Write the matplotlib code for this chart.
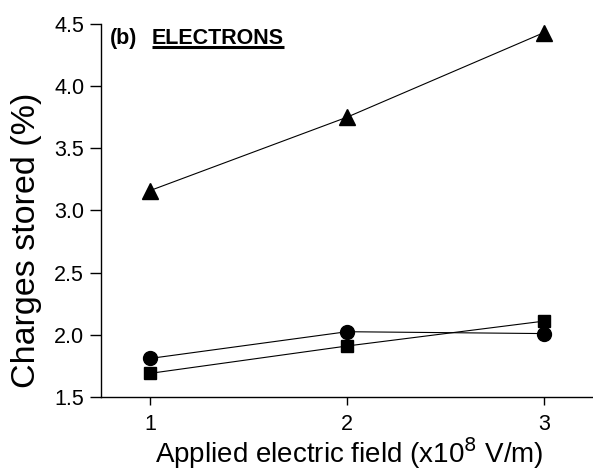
import matplotlib
matplotlib.use("Agg")
import matplotlib.pyplot as plt

field = [1, 2, 3]
triangles = [3.16, 3.75, 4.43]
circles = [1.81, 2.025, 2.01]
squares = [1.69, 1.91, 2.11]
yticks = [1.5, 2.0, 2.5, 3.0, 3.5, 4.0, 4.5]
xticks = [1, 2, 3]

plt.rcParams['font.family'] = ['Liberation Sans', 'DejaVu Sans']

fig = plt.figure(figsize=(5.93, 4.73), dpi=100)
ax = fig.add_axes([0.170, 0.1607, 0.830, 0.7886])

lw = 0.8
ax.plot(field, triangles, color='black', lw=lw, marker='^', ms=11, mfc='black', mec='black')
ax.plot(field, circles, color='black', lw=lw, marker='o', ms=10, mfc='black', mec='black')
ax.plot(field, squares, color='black', lw=lw, marker='s', ms=9, mfc='black', mec='black')

ax.set_xlim(0.75, 3.25)
ax.set_ylim(1.5, 4.5)
ax.set_xticks(xticks)
ax.set_yticks(yticks)
ax.set_yticklabels([f"{v:.1f}" for v in yticks])
ax.spines['top'].set_visible(False)
ax.spines['right'].set_visible(False)
ax.spines['left'].set_linewidth(1.0)
ax.spines['bottom'].set_linewidth(1.0)
ax.tick_params(axis='y', direction='out', length=8, width=1.0, labelsize=15.5, pad=4)
ax.tick_params(axis='x', direction='out', length=6, width=1.0, labelsize=15.5, pad=6)

ax.set_xlabel(r'Applied electric field (x10$^{8}$ V/m)', fontsize=20)
ax.xaxis.set_label_coords(0.504, -0.102)
ax.set_ylabel('Charges stored (%)', fontsize=24.5)
ax.yaxis.set_label_coords(-0.150, 0.42)
ax.yaxis.label.set_va('center')

ax.text(0.018, 0.99, '(b)', transform=ax.transAxes, fontsize=15.5, fontweight='bold',
        ha='left', va='top')
t = ax.text(0.104, 0.99, 'ELECTRONS', transform=ax.transAxes, fontsize=15.5, fontweight='bold',
            ha='left', va='top')
fig.canvas.draw()
bb = t.get_window_extent(renderer=fig.canvas.get_renderer())
inv = ax.transAxes.inverted()
(x0, y0), (x1, y1) = inv.transform([[bb.x0, bb.y0], [bb.x1, bb.y0]])
ax.plot([x0, x1], [y0 + 0.004, y0 + 0.004], transform=ax.transAxes, color='black', lw=2.2,
        clip_on=False, solid_capstyle='butt')

fig.savefig('out.png', dpi=100)
